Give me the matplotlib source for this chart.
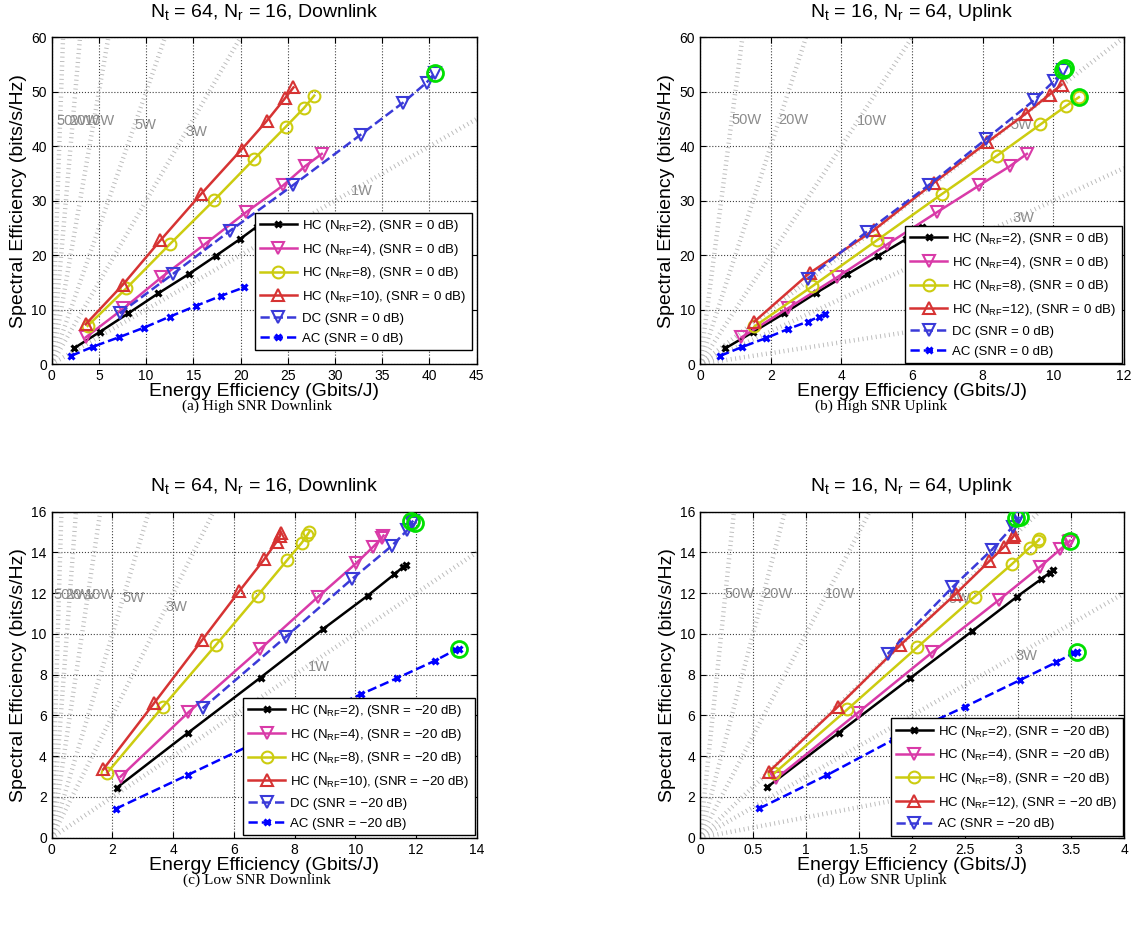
import matplotlib
matplotlib.use('Agg')
import matplotlib.pyplot as plt
import numpy as np

plt.rcParams['font.family'] = ['Liberation Sans', 'DejaVu Sans']
plt.rcParams['mathtext.fontset'] = 'custom'
plt.rcParams['mathtext.rm'] = 'Liberation Sans'
plt.rcParams['mathtext.it'] = 'Liberation Sans:italic'

# ---------------- data (EE in Gbits/J, SE in bits/s/Hz) ----------------
# (a) high SNR downlink
a_hc2_x = [2.36, 5.1, 8.1, 11.3, 14.5, 17.4, 19.9, 21.7]
a_hc2_y = [2.9, 5.9, 9.3, 13.0, 16.5, 19.9, 22.9, 25.2]
a_hc4_x = [3.6, 7.6, 11.6, 16.2, 20.6, 24.5, 26.8, 28.6]
a_hc4_y = [4.9, 10.2, 15.9, 22.0, 27.9, 32.8, 36.3, 38.6]
a_hc8_x = [3.8, 7.9, 12.5, 17.2, 21.4, 24.8, 26.7, 27.8]
a_hc8_y = [7.0, 13.9, 22.0, 30.1, 37.6, 43.6, 47.0, 49.3]
a_hc10_x = [3.6, 7.5, 11.5, 15.8, 20.1, 22.8, 24.7, 25.6]
a_hc10_y = [7.3, 14.5, 22.7, 31.2, 39.4, 44.7, 48.8, 50.8]
a_dc_x = [7.2, 12.8, 18.9, 25.6, 32.7, 37.2, 39.7, 40.6]
a_dc_y = [9.3, 16.5, 24.5, 32.9, 42.1, 48.0, 51.7, 53.5]
a_ac_x = [2.05, 4.4, 7.1, 9.8, 12.5, 15.3, 17.9, 20.4]
a_ac_y = [1.5, 3.2, 4.9, 6.7, 8.7, 10.7, 12.5, 14.1]
a_best_x = [40.6]
a_best_y = [53.5]

# (b) high SNR uplink
b_hc2_x = [0.72, 1.51, 2.38, 3.27, 4.17, 5.05, 5.82, 6.28]
b_hc2_y = [2.9, 5.9, 9.3, 13.0, 16.5, 19.9, 22.9, 25.1]
b_hc4_x = [1.17, 2.48, 3.87, 5.30, 6.71, 7.90, 8.76, 9.25]
b_hc4_y = [4.9, 10.2, 15.9, 22.0, 27.9, 32.8, 36.3, 38.6]
b_hc8_x = [1.54, 3.18, 5.0, 6.84, 8.41, 9.63, 10.36, 10.72]
b_hc8_y = [6.9, 14.3, 22.7, 31.2, 38.3, 44.0, 47.4, 49.0]
b_hc12_x = [1.54, 3.10, 4.92, 6.62, 8.12, 9.22, 9.89, 10.23]
b_hc12_y = [7.8, 16.7, 24.6, 33.3, 40.7, 46.0, 49.5, 51.3]
b_dc_x = [3.05, 4.72, 6.48, 8.09, 9.46, 10.02, 10.28]
b_dc_y = [15.7, 24.3, 32.9, 41.3, 48.5, 52.0, 54.0]
b_ac_x = [0.57, 1.18, 1.88, 2.48, 3.05, 3.38, 3.55]
b_ac_y = [1.5, 3.1, 4.8, 6.4, 7.8, 8.7, 9.1]
b_best_x = [10.28, 10.33, 10.72]
b_best_y = [54.0, 54.4, 49.0]

# (c) low SNR downlink
c_hc2_x = [2.14, 4.5, 6.88, 8.93, 10.41, 11.29, 11.56, 11.67]
c_hc2_y = [2.45, 5.16, 7.86, 10.23, 11.88, 12.93, 13.27, 13.39]
c_hc4_x = [2.27, 4.5, 6.86, 8.78, 10.03, 10.6, 10.87, 10.93]
c_hc4_y = [3.0, 6.15, 9.25, 11.83, 13.47, 14.29, 14.7, 14.83]
c_hc8_x = [1.83, 3.66, 5.41, 6.78, 7.76, 8.24, 8.42, 8.49]
c_hc8_y = [3.19, 6.43, 9.46, 11.88, 13.63, 14.48, 14.86, 15.02]
c_hc10_x = [1.70, 3.37, 4.96, 6.18, 7.01, 7.41, 7.52, 7.54]
c_hc10_y = [3.36, 6.6, 9.71, 12.1, 13.68, 14.53, 14.81, 14.94]
c_dc_x = [4.97, 7.72, 9.88, 11.2, 11.72, 11.86, 11.91]
c_dc_y = [6.35, 9.87, 12.68, 14.32, 15.1, 15.47, 15.56]
c_ac_x = [2.11, 4.48, 6.7, 8.8, 10.2, 11.36, 12.63, 13.29, 13.43]
c_ac_y = [1.42, 3.08, 4.65, 6.1, 7.05, 7.82, 8.69, 9.21, 9.26]
c_best_x = [11.83, 11.97, 13.43]
c_best_y = [15.55, 15.47, 9.25]

# (d) low SNR uplink
d_hc2_x = [0.63, 1.31, 1.98, 2.57, 2.99, 3.22, 3.30, 3.33]
d_hc2_y = [2.47, 5.16, 7.82, 10.15, 11.83, 12.70, 13.01, 13.14]
d_hc4_x = [0.72, 1.49, 2.19, 2.82, 3.21, 3.40, 3.48, 3.49]
d_hc4_y = [2.91, 6.14, 9.1, 11.67, 13.31, 14.16, 14.52, 14.58]
d_hc8_x = [0.70, 1.39, 2.05, 2.59, 2.94, 3.11, 3.19, 3.20]
d_hc8_y = [3.16, 6.3, 9.35, 11.83, 13.42, 14.24, 14.58, 14.65]
d_hc12_x = [0.65, 1.30, 1.89, 2.41, 2.73, 2.87, 2.95, 2.96]
d_hc12_y = [3.24, 6.43, 9.46, 11.96, 13.58, 14.29, 14.75, 14.84]
d_dc_x = [1.77, 2.38, 2.75, 2.95, 3.0, 3.01]
d_dc_y = [9.02, 12.29, 14.12, 15.27, 15.68, 15.76]
d_ac_x = [0.56, 1.20, 1.82, 2.50, 3.02, 3.36, 3.52, 3.56]
d_ac_y = [1.44, 3.08, 4.80, 6.43, 7.74, 8.61, 9.05, 9.13]
d_best_x = [2.98, 3.02, 3.49, 3.56]
d_best_y = [15.7, 15.76, 14.58, 9.1]

# power contours (W) and their labels
power_levels = [1, 3, 5, 10, 20, 50]
a_lbl_txt = ['50W', '20W', '10W', '5W', '3W', '1W']
a_lbl_x = [2.1, 3.5, 5.1, 9.9, 15.3, 32.8]
a_lbl_y = [44.7, 44.7, 44.7, 43.9, 42.7, 31.8]
b_lbl_txt = ['50W', '20W', '10W', '5W', '3W']
b_lbl_x = [1.32, 2.64, 4.87, 9.08, 9.15]
b_lbl_y = [44.8, 44.8, 44.7, 43.9, 26.8]
c_lbl_txt = ['50W', '20W', '10W', '5W', '3W', '1W']
c_lbl_x = [0.55, 0.93, 1.6, 2.7, 4.1, 8.8]
c_lbl_y = [11.9, 11.9, 11.9, 11.75, 11.3, 8.4]
d_lbl_txt = ['50W', '20W', '10W', '5W', '3W']
d_lbl_x = [0.37, 0.73, 1.32, 2.45, 3.08]
d_lbl_y = [11.95, 11.95, 11.95, 11.7, 8.9]

BLACK = '#000000'
MAG = '#d93aa8'
YEL = '#cccc10'
RED = '#d63333'
DCB = '#3a3ad8'
ACB = '#0000ff'
GREEN = '#00e000'


def hc(n, snr):
    return 'HC (N$_{\\mathregular{RF}}$=%d), (SNR = %s dB)' % (n, snr)


def draw(ax, series, best_x, best_y, lbl_x, lbl_y, lbl_txt, xmax, ymax,
         xticks, yticks, title, leg_anchor):
    # constant power rays
    for p in power_levels:
        ee = np.array([0.0, xmax])
        ax.plot(ee, p * ee, color='#b8b8b8', lw=3.2, linestyle=(0, (0.2, 0.8)),
                dash_capstyle='butt', zorder=1)
    for t, x, y in zip(lbl_txt, lbl_x, lbl_y):
        ax.text(x, y, t, color='#8c8c8c', fontsize=10.5, ha='center', va='center', zorder=1.5)

    for x, y, c, ls, m, lab in series:
        if m == 'x':
            ax.plot(x, y, color=c, ls=ls, lw=1.8, marker='x', ms=5, mew=2.2, label=lab, zorder=3)
        else:
            ax.plot(x, y, color=c, ls=ls, lw=1.8, marker=m, ms=8.5, mfc='none', mew=1.5,
                    label=lab, zorder=3)
    ax.plot(best_x, best_y, ls='none', marker='o', ms=11.5, mfc='none', mec=GREEN, mew=2, zorder=4)

    ax.set_xlim(0, xmax)
    ax.set_ylim(0, ymax)
    ax.set_xticks(xticks)
    ax.set_xticklabels(['%g' % v for v in xticks])
    ax.set_yticks(yticks)
    ax.grid(True, linestyle=':', color='#404040', lw=0.8)
    ax.set_axisbelow(True)
    ax.tick_params(direction='in', top=True, right=True, labelsize=10, length=4)
    for s in ax.spines.values():
        s.set_linewidth(1.0)
    ax.set_title(title, fontsize=14, pad=15)
    ax.set_xlabel('Energy Efficiency (Gbits/J)', fontsize=14, labelpad=0)
    ax.set_ylabel('Spectral Efficiency (bits/s/Hz)', fontsize=14, labelpad=3)
    leg = ax.legend(loc='lower right', bbox_to_anchor=leg_anchor, borderaxespad=0,
                    fontsize=9.5, handlelength=2.8, labelspacing=0.58, fancybox=False,
                    framealpha=1, edgecolor='black', borderpad=0.4, handletextpad=0.4)
    leg.get_frame().set_linewidth(1.0)
    leg.set_zorder(5)


fig = plt.figure(figsize=(11.39, 9.27), dpi=100)
ax_a = fig.add_axes([0.0454, 0.6073, 0.3731, 0.3524])
ax_b = fig.add_axes([0.6146, 0.6073, 0.3723, 0.3524])
ax_c = fig.add_axes([0.0454, 0.0963, 0.3731, 0.3517])
ax_d = fig.add_axes([0.6146, 0.0963, 0.3723, 0.3517])

t_down = 'N$_{\\mathregular{t}}$ = 64, N$_{\\mathregular{r}}$ = 16, Downlink'
t_up = 'N$_{\\mathregular{t}}$ = 16, N$_{\\mathregular{r}}$ = 64, Uplink'

draw(ax_a, [
    (a_hc2_x, a_hc2_y, BLACK, '-', 'x', hc(2, '0')),
    (a_hc4_x, a_hc4_y, MAG, '-', 'v', hc(4, '0')),
    (a_hc8_x, a_hc8_y, YEL, '-', 'o', hc(8, '0')),
    (a_hc10_x, a_hc10_y, RED, '-', '^', hc(10, '0')),
    (a_dc_x, a_dc_y, DCB, '--', 'v', 'DC (SNR = 0 dB)'),
    (a_ac_x, a_ac_y, ACB, '--', 'x', 'AC (SNR = 0 dB)'),
], a_best_x, a_best_y, a_lbl_x, a_lbl_y, a_lbl_txt, 45, 60,
    np.arange(0, 46, 5), np.arange(0, 61, 10), t_down, (0.988, 0.043))

draw(ax_b, [
    (b_hc2_x, b_hc2_y, BLACK, '-', 'x', hc(2, '0')),
    (b_hc4_x, b_hc4_y, MAG, '-', 'v', hc(4, '0')),
    (b_hc8_x, b_hc8_y, YEL, '-', 'o', hc(8, '0')),
    (b_hc12_x, b_hc12_y, RED, '-', '^', hc(12, '0')),
    (b_dc_x, b_dc_y, DCB, '--', 'v', 'DC (SNR = 0 dB)'),
    (b_ac_x, b_ac_y, ACB, '--', 'x', 'AC (SNR = 0 dB)'),
], b_best_x, b_best_y, b_lbl_x, b_lbl_y, b_lbl_txt, 12, 60,
    np.arange(0, 13, 2), np.arange(0, 61, 10), t_up, (0.995, 0.003))

draw(ax_c, [
    (c_hc2_x, c_hc2_y, BLACK, '-', 'x', hc(2, '\u221220')),
    (c_hc4_x, c_hc4_y, MAG, '-', 'v', hc(4, '\u221220')),
    (c_hc8_x, c_hc8_y, YEL, '-', 'o', hc(8, '\u221220')),
    (c_hc10_x, c_hc10_y, RED, '-', '^', hc(10, '\u221220')),
    (c_dc_x, c_dc_y, DCB, '--', 'v', 'DC (SNR = \u221220 dB)'),
    (c_ac_x, c_ac_y, ACB, '--', 'x', 'AC (SNR = \u221220 dB)'),
], c_best_x, c_best_y, c_lbl_x, c_lbl_y, c_lbl_txt, 14, 16,
    np.arange(0, 15, 2), np.arange(0, 17, 2), t_down, (0.996, 0.008))

draw(ax_d, [
    (d_hc2_x, d_hc2_y, BLACK, '-', 'x', hc(2, '\u221220')),
    (d_hc4_x, d_hc4_y, MAG, '-', 'v', hc(4, '\u221220')),
    (d_hc8_x, d_hc8_y, YEL, '-', 'o', hc(8, '\u221220')),
    (d_hc12_x, d_hc12_y, RED, '-', '^', hc(12, '\u221220')),
    (d_dc_x, d_dc_y, DCB, '--', 'v', 'AC (SNR = \u221220 dB)'),
    (d_ac_x, d_ac_y, ACB, '--', 'x', '_nolegend_'),
], d_best_x, d_best_y, d_lbl_x, d_lbl_y, d_lbl_txt, 4, 16,
    np.arange(0, 4.01, 0.5), np.arange(0, 17, 2), t_up, (0.997, 0.006))

# sub-captions
cap = dict(fontsize=11, family=['Liberation Serif', 'DejaVu Serif'], ha='center', va='center')
fig.text(0.2256, 0.562, '(a) High SNR Downlink', **cap)
fig.text(0.774, 0.562, '(b) High SNR Uplink', **cap)
fig.text(0.2256, 0.0507, '(c) Low SNR Downlink', **cap)
fig.text(0.774, 0.0507, '(d) Low SNR Uplink', **cap)

fig.savefig('out.png', dpi=100)
